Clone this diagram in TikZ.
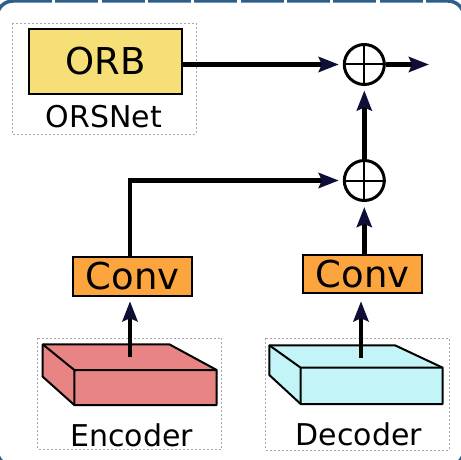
\documentclass[tikz,border=0pt]{standalone}
\usepackage{fontspec}
\setmainfont{DejaVu Sans}
\usetikzlibrary{arrows.meta,calc}

\definecolor{frameblue}{HTML}{2D5F8B}
\definecolor{orbyellow}{HTML}{F7DF78}
\definecolor{convorange}{HTML}{FCA53E}
\definecolor{encred}{HTML}{E88484}
\definecolor{deccyan}{HTML}{C2F4F8}
\definecolor{tipnavy}{HTML}{0E0E36}
\definecolor{dashgray}{HTML}{A8A8A8}

\begin{document}
\begin{tikzpicture}[x=1pt,y=-1pt,
  conn/.style={line width=4.5pt,-{Stealth[length=20pt,width=15pt,inset=3pt,color=tipnavy]}},
  bigbox/.style={draw=black,line width=2.5pt,inner sep=0pt,font=\fontsize{37}{40}\selectfont},
  sumc/.style={circle,draw=black,line width=3pt,minimum size=40pt,inner sep=0pt,fill=white},
  lbl/.style={inner sep=0pt,anchor=base,font=\fontsize{30}{33}\selectfont},
  grp/.style={draw=dashgray,line width=0.8pt,dash pattern=on 2pt off 2pt},
  block/.style={draw=black,line width=2pt,line join=round}
]
\useasboundingbox (0,0) rectangle (461,460);
\clip (0,0) rectangle (461,460);
\fill[white] (0,0) rectangle (461,460);

% outer frame
\draw[frameblue,line width=3.5pt,rounded corners=16pt] (-3,1) rectangle (464,466);
\foreach \gx in {53.7,100,146.3,192.7,239,285.3,331.6,377.9,424.2}
  \fill[white] (\gx-1.7,-2) rectangle (\gx+1.7,4);

% group frames
\draw[grp] (12,23) rectangle (196,134);
\draw[grp] (37.3,338.3) rectangle (221.7,449);
\draw[grp] (265.7,338.3) rectangle (449.3,450);

% nodes
\node[bigbox,fill=orbyellow,minimum width=153pt,minimum height=65pt] (orb) at (105.5,61.5) {ORB};
\node[lbl] (orsnet) at (104,128) {ORSNet};
\node[bigbox,fill=convorange,minimum width=119pt,minimum height=39pt] (lconv) at (132.5,276.5) {Conv};
\node[bigbox,fill=convorange,minimum width=119pt,minimum height=38pt] (rconv) at (362.5,274) {Conv};
\node[sumc] (c1) at (364.3,64.5) {};
\node[sumc] (c2) at (364.3,180.5) {};
\draw[line width=2pt] (c1.north) -- (c1.south) (c1.west) -- (c1.east);
\draw[line width=2pt] (c2.north) -- (c2.south) (c2.west) -- (c2.east);
\coordinate (out) at (429,64.5);

% 3D blocks
\draw[block,fill=encred] (42.7,344.3) -- (169.3,344.3) -- (216.7,370) -- (216.7,405) -- (74.3,405) -- (42.7,376.7) -- cycle;
\draw[block] (42.7,344.3) -- (74.3,370) -- (216.7,370) (74.3,370) -- (74.3,405);
\draw[block,fill=deccyan] (269.3,345.3) -- (395,345.3) -- (442.7,367.7) -- (442.7,404) -- (300.7,404) -- (269.3,375) -- cycle;
\draw[block] (269.3,345.3) -- (300.7,367.7) -- (442.7,367.7) (300.7,367.7) -- (300.7,404);
\coordinate (enc) at (130,357.3);
\coordinate (dec) at (361,358);
\node[lbl] (enclbl) at (131.5,446) {Encoder};
\node[lbl] (declbl) at (359,445) {Decoder};

% connectors
\draw[conn,shorten >=4pt] (orb.east |- c1.west) -- (c1.west);
\draw[conn] (c1.east) -- (out);
\draw[conn,shorten >=4.5pt] (c2.north) -- (c1.south);
\draw[conn,shorten >=4pt] ([xshift=-2.5pt]lconv.north) |- (c2.west);
\draw[conn,shorten >=5pt] ([xshift=1.8pt]rconv.north) -- (c2.south);
\draw[conn,shorten >=4pt] (enc) -- (enc |- lconv.south);
\draw[conn,shorten >=7pt] (dec) -- (dec |- rconv.south);
\end{tikzpicture}
\end{document}
